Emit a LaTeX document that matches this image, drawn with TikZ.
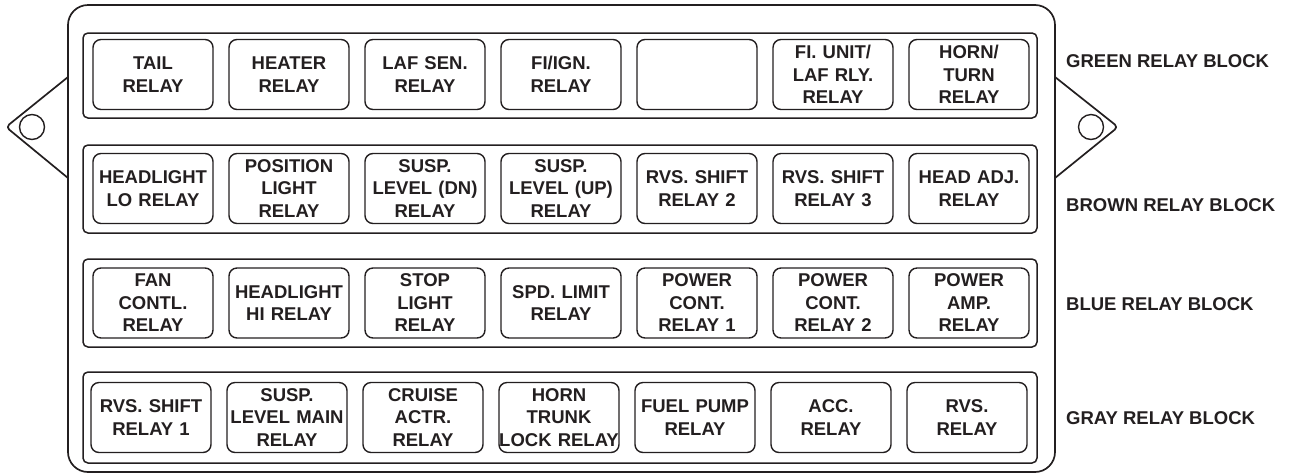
\documentclass[tikz,border=0pt]{standalone}
\usepackage{fontspec}
\setmainfont{Liberation Sans}
\definecolor{ink}{HTML}{231F20}
\begin{document}
\begin{tikzpicture}[x=1pt,y=-1pt,line join=round,
  relay/.style={draw=ink, line width=1.4pt, rounded corners=8pt, minimum width=120pt, minimum height=70pt, inner sep=0pt, text width=120pt, align=center, font=\fontsize{18.5}{22.5}\selectfont\bfseries, text=ink},
  blockbox/.style={draw=ink, line width=1.5pt, rounded corners=5pt, minimum width=954pt, inner sep=0pt},
  lbl/.style={anchor=base west, font=\fontsize{18.5}{22}\selectfont\bfseries, text=ink, inner sep=0pt},
  outline/.style={draw=ink, line width=1.7pt},
  hole/.style={circle, draw=ink, line width=1.4pt, minimum size=25pt, inner sep=0pt}]
\useasboundingbox (0,0) rectangle (1289,475);
% outer housing
\draw[outline, rounded corners=20pt] (68,5) rectangle (1055,472);
% tabs
\coordinate (lt) at (68,77); \coordinate (ltip) at (6,127); \coordinate (lb) at (68,178);
\draw[outline, rounded corners=4pt] (lt) -- (ltip) -- (lb);
\node[hole] (lhole) at (32,127) {};
\coordinate (rt) at (1055,77); \coordinate (rtip) at (1118,127); \coordinate (rb) at (1055,178);
\draw[outline, rounded corners=4pt] (rt) -- (rtip) -- (rb);
\node[hole] (rhole) at (1091,127) {};
% blocks
\node[blockbox, minimum height=85pt] (green) at (560,75.5) {};
\node[blockbox, minimum height=88pt] (brown) at (560,189) {};
\node[blockbox, minimum height=88pt] (blue) at (560,303) {};
\node[blockbox, minimum height=91pt] (gray) at (560,417.5) {};
% row 1
\node[relay] (g1) at (153,74.5) {TAIL\\RELAY};
\node[relay] (g2) at (289,74.5) {HEATER\\RELAY};
\node[relay] (g3) at (425,74.5) {LAF SEN.\\RELAY};
\node[relay] (g4) at (561,74.5) {FI/IGN.\\RELAY};
\node[relay] (g5) at (697,74.5) {};
\node[relay] (g6) at (833,74.5) {FI. UNIT/\\LAF RLY.\\RELAY};
\node[relay] (g7) at (969,74.5) {HORN/\\TURN\\RELAY};
% row 2
\node[relay] (r1) at (153,188.5) {HEADLIGHT\\LO RELAY};
\node[relay] (r2) at (289,188.5) {POSITION\\LIGHT\\RELAY};
\node[relay] (r3) at (425,188.5) {SUSP.\\LEVEL (DN)\\RELAY};
\node[relay] (r4) at (561,188.5) {SUSP.\\LEVEL (UP)\\RELAY};
\node[relay] (r5) at (697,188.5) {RVS. SHIFT\\RELAY 2};
\node[relay] (r6) at (833,188.5) {RVS. SHIFT\\RELAY 3};
\node[relay] (r7) at (969,188.5) {HEAD ADJ.\\RELAY};
% row 3
\node[relay] (u1) at (153,303) {FAN\\CONTL.\\RELAY};
\node[relay] (u2) at (289,303) {HEADLIGHT\\HI RELAY};
\node[relay] (u3) at (425,303) {STOP\\LIGHT\\RELAY};
\node[relay] (u4) at (561,303) {SPD. LIMIT\\RELAY};
\node[relay] (u5) at (697,303) {POWER\\CONT.\\RELAY 1};
\node[relay] (u6) at (833,303) {POWER\\CONT.\\RELAY 2};
\node[relay] (u7) at (969,303) {POWER\\AMP.\\RELAY};
% row 4
\node[relay] (y1) at (151,417.5) {RVS. SHIFT\\RELAY 1};
\node[relay] (y2) at (287,417.5) {SUSP.\\LEVEL MAIN\\RELAY};
\node[relay] (y3) at (423,417.5) {CRUISE\\ACTR.\\RELAY};
\node[relay] (y4) at (559,417.5) {HORN\\TRUNK\\LOCK RELAY};
\node[relay] (y5) at (695,417.5) {FUEL PUMP\\RELAY};
\node[relay] (y6) at (831,417.5) {ACC.\\RELAY};
\node[relay] (y7) at (967,417.5) {RVS.\\RELAY};
% labels
\node[lbl] (lg) at (1066,67) {GREEN RELAY BLOCK};
\node[lbl] (lr) at (1066,211) {BROWN RELAY BLOCK};
\node[lbl] (lu) at (1066,310) {BLUE RELAY BLOCK};
\node[lbl] (ly) at (1066,424) {GRAY RELAY BLOCK};
\end{tikzpicture}
\end{document}
